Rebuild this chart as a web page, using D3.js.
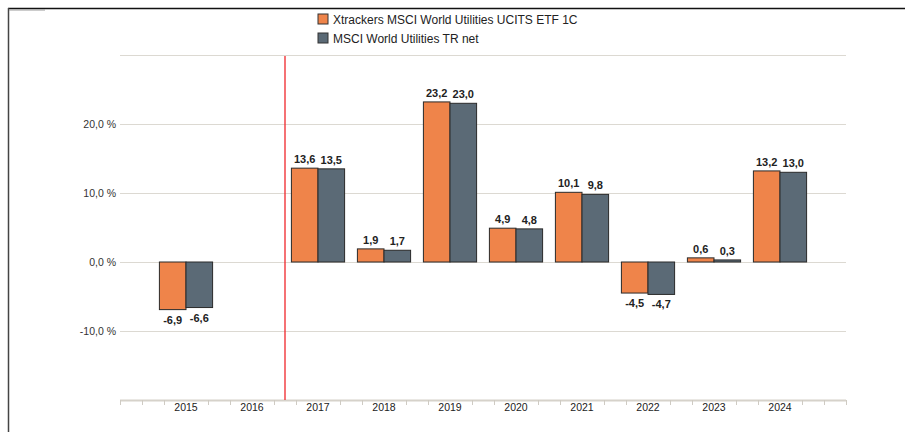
<!DOCTYPE html>
<html>
<meta charset="utf-8">

<head>
    <style>
        body { margin: 0; background: #fff; }
        svg { display: block; font-family: "Liberation Sans", Arial, sans-serif; }
        .grid line { stroke: #dcd9d2; stroke-width: 1.2; }
        .ylab { font-size: 10.5px; fill: #333; }
        .xlab { font-size: 10.5px; fill: #222; }
        .val { font-size: 11px; font-weight: bold; fill: #222; }
        .leg { font-size: 12px; fill: #222; }
    </style>
</head>

<body>
    <script src="https://d3js.org/d3.v7.min.js"></script>
    <script>
        // data
        const years = [2015, 2016, 2017, 2018, 2019, 2020, 2021, 2022, 2023, 2024];
        const etf = [-6.9, null, 13.6, 1.9, 23.2, 4.9, 10.1, -4.5, 0.6, 13.2];
        const index = [-6.6, null, 13.5, 1.7, 23.0, 4.8, 9.8, -4.7, 0.3, 13.0];
        const seriesNames = ["Xtrackers MSCI World Utilities UCITS ETF 1C", "MSCI World Utilities TR net"];
        const colors = ["#ef844a", "#5b6a76"];
        const yTicks = [-10, 0, 10, 20];
        const gridTicks = [30, 20, 10, 0, -10];

        const W = 905, H = 432;
        const svg = d3.select("body").append("svg")
            .attr("width", W).attr("height", H);

        // frame
        svg.append("line").attr("x1", 8).attr("x2", W).attr("y1", 8.5).attr("y2", 8.5)
            .attr("stroke", "#111").attr("stroke-width", 1.5);
        svg.append("line").attr("x1", 8.5).attr("x2", 8.5).attr("y1", 8).attr("y2", H)
            .attr("stroke", "#444").attr("stroke-width", 1.5);
        svg.append("line").attr("x1", 9).attr("x2", 45).attr("y1", 10).attr("y2", 10)
            .attr("stroke", "#999").attr("stroke-width", 1);

        var x = d3.scaleLinear().domain([2014, 2025]).range([120, 846]);
        var y = d3.scaleLinear().domain([-20, 30]).range([400, 55]);

        // gridlines
        svg.append("g").attr("class", "grid")
            .selectAll("line").data(gridTicks).join("line")
            .attr("x1", x(2014)).attr("x2", x(2025))
            .attr("y1", d => Math.round(y(d)) + 0.5).attr("y2", d => Math.round(y(d)) + 0.5);

        svg.append("g").selectAll("text").data(yTicks).join("text")
            .attr("class", "ylab")
            .attr("x", 116).attr("y", d => y(d) + 4)
            .attr("text-anchor", "end")
            .text(d => d3.format(".1f")(d).replace(".", ",").replace("−", "-") + " %");

        // x axis with minor ticks every third of a year
        var tickVals = d3.range(0, 34).map(i => 2014 + i / 3);
        svg.append("line").attr("x1", x(2014)).attr("x2", x(2025))
            .attr("y1", 400.5).attr("y2", 400.5)
            .attr("stroke", "#d6d2ca").attr("stroke-width", 2);
        svg.append("g").selectAll("line")
            .data(tickVals.filter((d, i) => i % 3 !== 0 || i === 0 || i === 33)).join("line")
            .attr("x1", d => Math.round(x(d)) + 0.5).attr("x2", d => Math.round(x(d)) + 0.5)
            .attr("y1", 400).attr("y2", 405)
            .attr("stroke", "#cfcbc3").attr("stroke-width", 1);
        svg.append("g").selectAll("text").data(years).join("text")
            .attr("class", "xlab")
            .attr("x", d => x(d)).attr("y", 411)
            .attr("text-anchor", "middle")
            .text(d => d);

        // red marker line
        svg.append("line").attr("x1", x(2016.5)).attr("x2", x(2016.5))
            .attr("y1", 56).attr("y2", 400)
            .attr("stroke", "#f0262a").attr("stroke-width", 1.3);

        // bars
        var bw = 26.6;
        var fmt = v => d3.format(".1f")(v).replace(".", ",").replace("−", "-");
        [etf, index].forEach(function (vals, s) {
            var pts = years.map((yr, i) => ({ yr: yr, v: vals[i] })).filter(d => d.v !== null);
            var g = svg.append("g");
            g.selectAll("rect").data(pts).join("rect")
                .attr("x", d => x(d.yr) - bw + s * bw)
                .attr("width", bw)
                .attr("y", d => Math.min(y(d.v), y(0)))
                .attr("height", d => Math.abs(y(d.v) - y(0)))
                .attr("fill", colors[s])
                .attr("stroke", "#2a2a2a").attr("stroke-width", 1);
            g.selectAll("text").data(pts).join("text")
                .attr("class", "val")
                .attr("x", d => x(d.yr) - bw / 2 + s * bw)
                .attr("y", d => d.v >= 0 ? y(d.v) - 5 : y(d.v) + 14)
                .attr("text-anchor", "middle")
                .text(d => fmt(d.v));
        });

        // legend
        var leg = svg.append("g").selectAll("g").data(seriesNames).join("g")
            .attr("transform", (d, i) => "translate(318," + (14 + i * 19) + ")");
        leg.append("rect").attr("width", 10).attr("height", 10)
            .attr("fill", (d, i) => colors[i]).attr("stroke", "#333").attr("stroke-width", 1);
        leg.append("text").attr("class", "leg").attr("x", 15).attr("y", 9.5).text(d => d);
    </script>
</body>

</html>
